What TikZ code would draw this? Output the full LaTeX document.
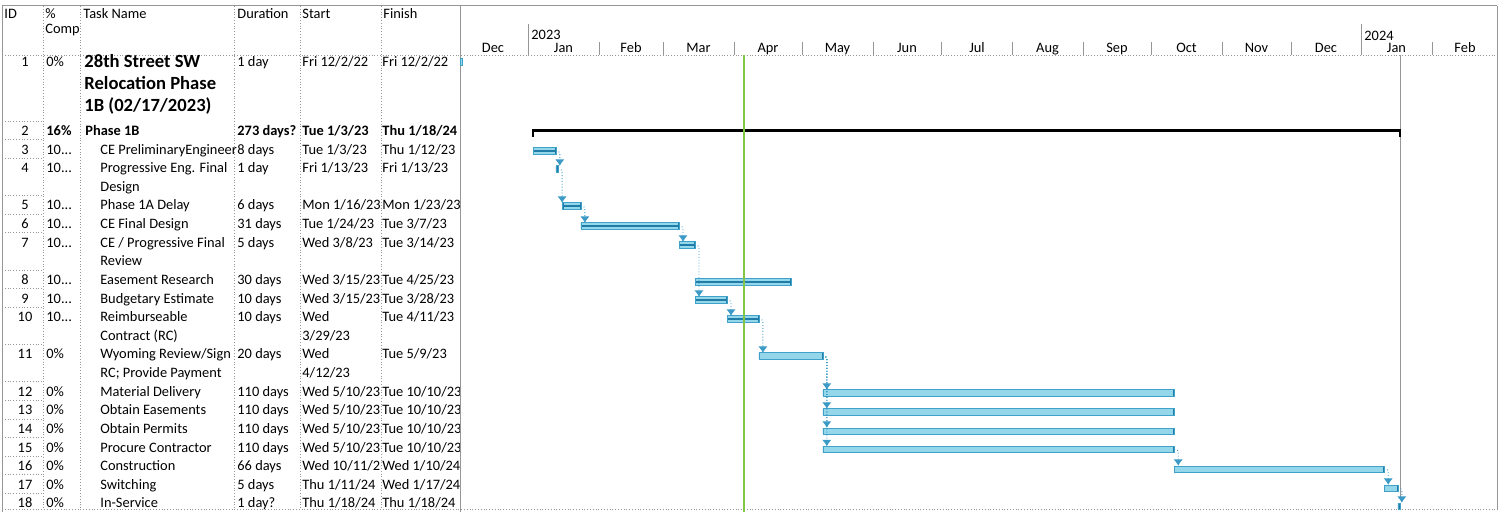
\documentclass[tikz,border=0pt]{standalone}
\usepackage{fontspec}
\setmainfont{Carlito}
\usepackage{tikz}
\usetikzlibrary{arrows.meta}

\definecolor{barfill}{RGB}{148,214,234}
\definecolor{barline}{RGB}{64,162,200}
\definecolor{bardark}{RGB}{32,125,168}
\definecolor{deplink}{RGB}{60,155,198}
\definecolor{todayline}{RGB}{132,196,70}
\definecolor{gridcol}{RGB}{150,150,150}

\newcommand\tabfont{\fontsize{7.2}{9.31}\selectfont}
\newcommand\dep[2]{\draw[dep] (#1.east) -- ++(4,0) coordinate (#1k) -- (#1k |- #2.north);}

\tikzset{
  cell/.style={anchor=north west, inner sep=0pt, align=left, font=\tabfont},
  bcell/.style={cell, font=\tabfont\bfseries},
  idcell/.style={anchor=north, inner sep=0pt, font=\tabfont},
  month/.style={anchor=base, inner sep=0pt, font=\tabfont},
  tabgrid/.style={gridcol, densely dotted, line width=0.4pt},
  tabframe/.style={gridcol, line width=0.5pt},
  bar/.style={draw=barline, fill=barfill, line width=0.3pt, inner sep=0pt, outer sep=0pt,
    minimum height=3.2pt, anchor=west,
    path picture={\draw[bardark, line width=1.2pt]
      (path picture bounding box.north west) -- (path picture bounding box.south west)
      (path picture bounding box.north east) -- (path picture bounding box.south east);}},
  done/.style={bar,
    path picture={\draw[bardark, line width=1.2pt]
      (path picture bounding box.north west) -- (path picture bounding box.south west)
      (path picture bounding box.north east) -- (path picture bounding box.south east);
      \draw[bardark, line width=0.7pt]
      (path picture bounding box.west) -- (path picture bounding box.east);}},
  sumbar/.style={fill=black, inner sep=0pt, outer sep=0pt, minimum height=1.7pt, anchor=west},
  sumend/.style={black, line width=1.1pt},
  dep/.style={deplink, densely dotted, line width=0.45pt, rounded corners=1.5pt,
    >={Latex[width=4.6pt,length=3.2pt]}, ->}
}

\begin{document}
\begin{tikzpicture}[x=0.5pt,y=-0.5pt]
\useasboundingbox (0,0) rectangle (1507,512);

\draw[tabframe] (2,6) -- (1497,6);
\draw[tabframe] (2,6) -- (2,512);
\draw[tabframe] (460,6) -- (460,512);
\draw[tabframe] (1497,6) -- (1497,510);
\draw[tabgrid] (2,55) -- (1497,55);
\draw[tabgrid] (2,509) -- (1497,509);
\draw[tabgrid] (43,6) -- (43,509) (80,6) -- (80,509) (234,6) -- (234,509)
  (300,6) -- (300,509) (381,6) -- (381,509);
\draw[tabgrid] (2,121) -- (43,121) (2,139.6) -- (43,139.6) (2,158.2) -- (43,158.2)
  (2,195.5) -- (43,195.5) (2,214.1) -- (43,214.1) (2,232.7) -- (43,232.7)
  (2,270) -- (43,270) (2,288.6) -- (43,288.6) (2,307.2) -- (43,307.2)
  (2,344.5) -- (43,344.5) (2,381.7) -- (43,381.7) (2,400.4) -- (43,400.4)
  (2,419) -- (43,419) (2,437.6) -- (43,437.6) (2,456.2) -- (43,456.2)
  (2,474.8) -- (43,474.8) (2,493.5) -- (43,493.5);

% timescale
\draw[tabframe] (528.4,24) -- (528.4,55) (1361,24) -- (1361,55);
\draw[tabframe] (599,42) -- (599,55) (663,42) -- (663,55) (734,42) -- (734,55)
  (802,42) -- (802,55) (873,42) -- (873,55) (941.5,42) -- (941.5,55)
  (1012,42) -- (1012,55) (1083,42) -- (1083,55) (1151,42) -- (1151,55)
  (1222,42) -- (1222,55) (1291,42) -- (1291,55) (1432,42) -- (1432,55);
\node[anchor=base west, inner sep=0pt, font=\tabfont] (y2023) at (531,39.5) {2023};
\node[anchor=base west, inner sep=0pt, font=\tabfont] (y2024) at (1364,40.5) {2024};
\node[month] (mdec22) at (493,53) {Dec};
\node[month] (mjan23) at (563.5,53) {Jan};
\node[month] (mfeb23) at (631,53) {Feb};
\node[month] (mmar23) at (698.5,53) {Mar};
\node[month] (mapr23) at (768,53) {Apr};
\node[month] (mmay23) at (837.5,53) {May};
\node[month] (mjun23) at (907,53) {Jun};
\node[month] (mjul23) at (977,53) {Jul};
\node[month] (maug23) at (1047.5,53) {Aug};
\node[month] (msep23) at (1117,53) {Sep};
\node[month] (moct23) at (1186.5,53) {Oct};
\node[month] (mnov23) at (1256.5,53) {Nov};
\node[month] (mdec23) at (1326,53) {Dec};
\node[month] (mjan24) at (1396.5,53) {Jan};
\node[month] (mfeb24) at (1465,53) {Feb};

% header
\node[cell] (hid) at (4,5) {\strut ID};
\node[cell, font=\fontsize{7.2}{7.5}\selectfont] (hpc) at (45,7.5) {\strut\%\\Comp};
\node[cell] (htn) at (83,5) {\strut Task Name};
\node[cell] (hdu) at (237,5) {\strut Duration};
\node[cell] (hst) at (302,5) {\strut Start};
\node[cell] (hfi) at (383,5) {\strut Finish};

% ID, % complete, name, duration
\node[idcell] (id1) at (25,53) {\strut 1};
\node[cell] (pc1) at (46,53) {\strut 0\%};
\node[cell, font=\fontsize{9.3}{11}\selectfont\bfseries] (tn1) at (84,51.6) {\strut 28th Street SW\\Relocation Phase\\1B (02/17/2023)};
\node[cell] (du1) at (237,53) {\strut 1 day};

\node[idcell] (id2) at (25,122) {\strut 2};
\node[bcell] (pc2) at (46,122) {\strut 16\%};
\node[bcell] (tn2) at (85,122) {\strut Phase 1B};
\node[bcell] (du2) at (237,122) {\strut 273 days?};

\node[idcell] (id3) at (25,140.6) {\strut 3};
\node[cell] (pc3) at (46,140.6) {\strut 10...};
\node[cell] (tn3) at (100,140.6) {\strut CE PreliminaryEngineer};
\node[cell] (du3) at (237,140.6) {\strut 8 days};

\node[idcell] (id4) at (25,159.2) {\strut 4};
\node[cell] (pc4) at (46,159.2) {\strut 10...};
\node[cell] (tn4) at (100,159.2) {\strut Progressive Eng. Final\\Design};
\node[cell] (du4) at (237,159.2) {\strut 1 day};

\node[idcell] (id5) at (25,196.5) {\strut 5};
\node[cell] (pc5) at (46,196.5) {\strut 10...};
\node[cell] (tn5) at (100,196.5) {\strut Phase 1A Delay};
\node[cell] (du5) at (237,196.5) {\strut 6 days};

\node[idcell] (id6) at (25,215.1) {\strut 6};
\node[cell] (pc6) at (46,215.1) {\strut 10...};
\node[cell] (tn6) at (100,215.1) {\strut CE Final Design};
\node[cell] (du6) at (237,215.1) {\strut 31 days};

\node[idcell] (id7) at (25,233.7) {\strut 7};
\node[cell] (pc7) at (46,233.7) {\strut 10...};
\node[cell] (tn7) at (100,233.7) {\strut CE / Progressive Final\\Review};
\node[cell] (du7) at (237,233.7) {\strut 5 days};

\node[idcell] (id8) at (25,271) {\strut 8};
\node[cell] (pc8) at (46,271) {\strut 10...};
\node[cell] (tn8) at (100,271) {\strut Easement Research};
\node[cell] (du8) at (237,271) {\strut 30 days};

\node[idcell] (id9) at (25,289.6) {\strut 9};
\node[cell] (pc9) at (46,289.6) {\strut 10...};
\node[cell] (tn9) at (100,289.6) {\strut Budgetary Estimate};
\node[cell] (du9) at (237,289.6) {\strut 10 days};

\node[idcell] (id10) at (25,308.2) {\strut 10};
\node[cell] (pc10) at (46,308.2) {\strut 10...};
\node[cell] (tn10) at (100,308.2) {\strut Reimburseable\\Contract (RC)};
\node[cell] (du10) at (237,308.2) {\strut 10 days};

\node[idcell] (id11) at (25,345.5) {\strut 11};
\node[cell] (pc11) at (46,345.5) {\strut 0\%};
\node[cell] (tn11) at (100,345.5) {\strut Wyoming Review/Sign\\RC; Provide Payment};
\node[cell] (du11) at (237,345.5) {\strut 20 days};

\node[idcell] (id12) at (25,382.7) {\strut 12};
\node[cell] (pc12) at (46,382.7) {\strut 0\%};
\node[cell] (tn12) at (100,382.7) {\strut Material Delivery};
\node[cell] (du12) at (237,382.7) {\strut 110 days};

\node[idcell] (id13) at (25,401.4) {\strut 13};
\node[cell] (pc13) at (46,401.4) {\strut 0\%};
\node[cell] (tn13) at (100,401.4) {\strut Obtain Easements};
\node[cell] (du13) at (237,401.4) {\strut 110 days};

\node[idcell] (id14) at (25,420) {\strut 14};
\node[cell] (pc14) at (46,420) {\strut 0\%};
\node[cell] (tn14) at (100,420) {\strut Obtain Permits};
\node[cell] (du14) at (237,420) {\strut 110 days};

\node[idcell] (id15) at (25,438.6) {\strut 15};
\node[cell] (pc15) at (46,438.6) {\strut 0\%};
\node[cell] (tn15) at (100,438.6) {\strut Procure Contractor};
\node[cell] (du15) at (237,438.6) {\strut 110 days};

\node[idcell] (id16) at (25,457.2) {\strut 16};
\node[cell] (pc16) at (46,457.2) {\strut 0\%};
\node[cell] (tn16) at (100,457.2) {\strut Construction};
\node[cell] (du16) at (237,457.2) {\strut 66 days};

\node[idcell] (id17) at (25,475.9) {\strut 17};
\node[cell] (pc17) at (46,475.9) {\strut 0\%};
\node[cell] (tn17) at (100,475.9) {\strut Switching};
\node[cell] (du17) at (237,475.9) {\strut 5 days};

\node[idcell] (id18) at (25,494.5) {\strut 18};
\node[cell] (pc18) at (46,494.5) {\strut 0\%};
\node[cell] (tn18) at (100,494.5) {\strut In-Service};
\node[cell] (du18) at (237,494.5) {\strut 1 day?};

% start column
\begin{scope}
\clip (300,55) rectangle (380.6,509);
\node[cell] (st1) at (302,53) {\strut Fri 12/2/22};
\node[bcell] (st2) at (302,122) {\strut Tue 1/3/23};
\node[cell] (st3) at (302,140.6) {\strut Tue 1/3/23};
\node[cell] (st4) at (302,159.2) {\strut Fri 1/13/23};
\node[cell] (st5) at (302,196.5) {\strut Mon 1/16/23};
\node[cell] (st6) at (302,215.1) {\strut Tue 1/24/23};
\node[cell] (st7) at (302,233.7) {\strut Wed 3/8/23};
\node[cell] (st8) at (302,271) {\strut Wed 3/15/23};
\node[cell] (st9) at (302,289.6) {\strut Wed 3/15/23};
\node[cell] (st10) at (302,308.2) {\strut Wed\\3/29/23};
\node[cell] (st11) at (302,345.5) {\strut Wed\\4/12/23};
\node[cell] (st12) at (302,382.7) {\strut Wed 5/10/23};
\node[cell] (st13) at (302,401.4) {\strut Wed 5/10/23};
\node[cell] (st14) at (302,420) {\strut Wed 5/10/23};
\node[cell] (st15) at (302,438.6) {\strut Wed 5/10/23};
\node[cell] (st16) at (302,457.2) {\strut Wed 10/11/23};
\node[cell] (st17) at (302,475.9) {\strut Thu 1/11/24};
\node[cell] (st18) at (302,494.5) {\strut Thu 1/18/24};
\end{scope}

% finish column
\begin{scope}
\clip (381,55) rectangle (459.5,509);
\node[cell] (fi1) at (382,53) {\strut Fri 12/2/22};
\node[bcell] (fi2) at (382,122) {\strut Thu 1/18/24};
\node[cell] (fi3) at (382,140.6) {\strut Thu 1/12/23};
\node[cell] (fi4) at (382,159.2) {\strut Fri 1/13/23};
\node[cell] (fi5) at (382,196.5) {\strut Mon 1/23/23};
\node[cell] (fi6) at (382,215.1) {\strut Tue 3/7/23};
\node[cell] (fi7) at (382,233.7) {\strut Tue 3/14/23};
\node[cell] (fi8) at (382,271) {\strut Tue 4/25/23};
\node[cell] (fi9) at (382,289.6) {\strut Tue 3/28/23};
\node[cell] (fi10) at (382,308.2) {\strut Tue 4/11/23};
\node[cell] (fi11) at (382,345.5) {\strut Tue 5/9/23};
\node[cell] (fi12) at (382,382.7) {\strut Tue 10/10/23};
\node[cell] (fi13) at (382,401.4) {\strut Tue 10/10/23};
\node[cell] (fi14) at (382,420) {\strut Tue 10/10/23};
\node[cell] (fi15) at (382,438.6) {\strut Tue 10/10/23};
\node[cell] (fi16) at (382,457.2) {\strut Wed 1/10/24};
\node[cell] (fi17) at (382,475.9) {\strut Wed 1/17/24};
\node[cell] (fi18) at (382,494.5) {\strut Thu 1/18/24};
\end{scope}

\draw[gridcol, line width=0.4pt] (1400,55) -- (1400,498);

% bars
\node[draw=barline, fill=barfill, line width=0.3pt, inner sep=0pt, minimum width=1.2pt, minimum height=3.4pt, anchor=west] (b1) at (460,62) {};
\node[sumbar, minimum width=433.55pt] (b2) at (533,130.5) {};
\draw[sumend] (b2.north west) -- ++(0,8) (b2.north east) -- ++(0,8);
\node[done, minimum width=11.4pt] (b3) at (533,151) {};
\node[done, minimum width=1.15pt] (b4) at (555.8,169) {};
\node[done, minimum width=9.15pt] (b5) at (562.6,206) {};
\node[done, minimum width=49.05pt] (b6) at (580.9,226) {};
\node[done, minimum width=8pt] (b7) at (679,245) {};
\node[done, minimum width=47.9pt] (b8) at (695,282) {};
\node[done, minimum width=16pt] (b9) at (695,300) {};
\node[done, minimum width=15.95pt] (b10) at (727,319) {};
\node[bar, minimum width=31.95pt] (b11) at (758.9,356) {};
\node[bar, minimum width=175.7pt] (b12) at (822.8,393) {};
\node[bar, minimum width=175.7pt] (b13) at (822.8,412) {};
\node[bar, minimum width=175.7pt] (b14) at (822.8,431) {};
\node[bar, minimum width=175.7pt] (b15) at (822.8,449.5) {};
\node[bar, minimum width=105pt] (b16) at (1174.2,469) {};
\node[bar, minimum width=6.8pt] (b17) at (1384.2,488) {};
\node[bar, minimum width=1.15pt] (b18) at (1397.8,506) {};

\dep{b3}{b4}
\dep{b4}{b5}
\dep{b5}{b6}
\dep{b6}{b7}
\dep{b7}{b9}
\dep{b9}{b10}
\dep{b10}{b11}
\dep{b11}{b12}
\dep{b11}{b13}
\dep{b11}{b14}
\dep{b11}{b15}
\dep{b15}{b16}
\dep{b16}{b17}
\dep{b17}{b18}

\draw[todayline, line width=0.8pt] (744,55) -- (744,512);

\end{tikzpicture}
\end{document}
